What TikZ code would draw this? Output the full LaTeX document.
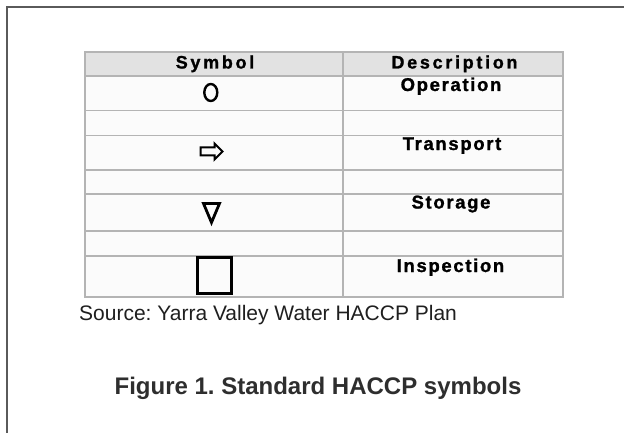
\documentclass[tikz,border=0pt]{standalone}
\usepackage{fontspec}
\setmainfont{Liberation Sans}
\newfontfamily\tabfont[LetterSpace=9, BoldFeatures={FakeBold=1.2}]{Liberation Sans}
\newfontfamily\headfont[LetterSpace=15, BoldFeatures={FakeBold=1.2}]{Liberation Sans}
\definecolor{gridc}{HTML}{B4B4B4}
\definecolor{headc}{HTML}{E2E2E2}
\definecolor{framec}{HTML}{5A5A5A}
\definecolor{capc}{HTML}{2E2E2E}
\tikzset{
  gridline/.style={draw=gridc, line width=1.5pt},
  headtext/.style={anchor=base, inner sep=0pt, font=\headfont\bfseries\fontsize{18}{18}\selectfont},
  desctext/.style={anchor=base, inner sep=0pt, font=\tabfont\bfseries\fontsize{18.5}{18.5}\selectfont},
  symline/.style={draw=black, line width=2.4pt, line join=miter},
}
\begin{document}
\frenchspacing
\begin{tikzpicture}[x=1pt, y=-1pt]
\useasboundingbox (0,0) rectangle (624,433);
\fill[white] (0,0) rectangle (624,433);
% outer frame (top and left edges)
\draw[draw=framec, line width=2pt] (6.5,433) -- (6.5,7) -- (624,7);
% table
\fill[headc] (85,52) rectangle (563,76);
\fill[white!97!gray] (85,76) rectangle (563,297);
\foreach \y in {76,110.7,135.3,170,194,231,256} {
  \draw[gridline] (85,\y) -- (563,\y);
}
\draw[gridline] (85,52) rectangle (563,297);
\draw[gridline] (343,52) -- (343,297);
% header
\node[headtext] (hsym) at (215,68.5) {Symbol};
\node[headtext] (hdesc) at (454.5,68.5) {Description};
% descriptions
\node[desctext] (dop) at (451,91) {Operation};
\node[desctext] (dtr) at (452,150) {Transport};
\node[desctext] (dst) at (451,208.5) {Storage};
\node[desctext] (din) at (450.5,272) {Inspection};
% symbols
\draw[symline] (210.8,92.5) ellipse [x radius=6.5, y radius=8.5];
\draw[symline, line width=2pt] (200.5,147.5) -- (214.5,147.5) -- (214.5,143.5) -- (222.5,151.5) -- (214.5,159.5) -- (214.5,155.5) -- (200.5,155.5) -- cycle;
\draw[symline, line width=2.8pt] (203.5,203.5) -- (219.5,203.5) -- (211.5,222.5) -- cycle;
\draw[symline, line width=3pt] (197.5,257) rectangle (231.5,293);
% source and caption
\node[anchor=base west, inner sep=0pt, text=black!88, font=\fontsize{21}{21}\selectfont] (src) at (79,320) {Source: Yarra Valley Water HACCP Plan};
\node[anchor=base, inner sep=0pt, text=capc, font=\bfseries\fontsize{24}{24}\selectfont] (cap) at (318,394) {Figure 1. Standard HACCP symbols};
\end{tikzpicture}
\end{document}
